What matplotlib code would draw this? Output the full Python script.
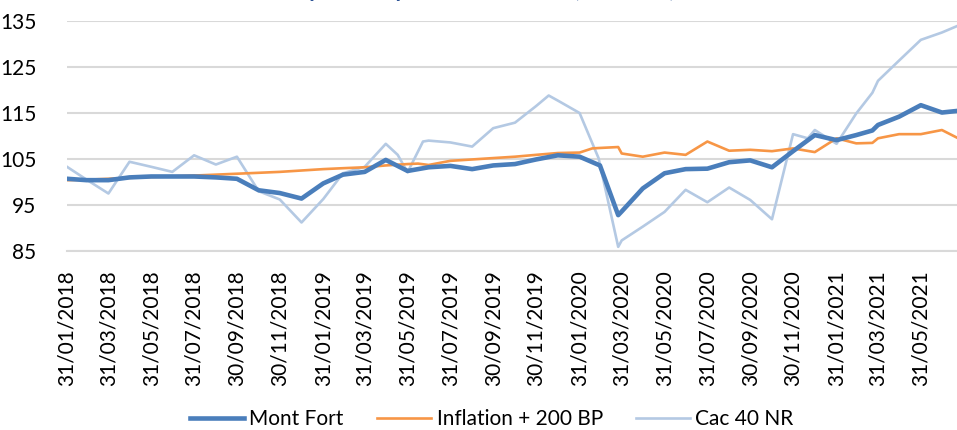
import matplotlib
matplotlib.use("Agg")
import matplotlib.pyplot as plt
import matplotlib.dates as mdates
import pandas as pd

plt.rcParams['font.family'] = ['Lato', 'DejaVu Sans']

title = "Évolution comparée depuis le lancement (base 100)"

mf_dates = ["2018-01-31", "2018-02-28", "2018-03-31", "2018-04-30", "2018-05-31", "2018-06-30",
            "2018-07-31", "2018-08-31", "2018-09-30", "2018-10-31", "2018-11-30", "2018-12-31",
            "2019-01-31", "2019-02-28", "2019-03-31", "2019-04-30", "2019-05-31", "2019-06-30",
            "2019-07-31", "2019-08-31", "2019-09-30", "2019-10-31", "2019-11-30", "2019-12-31",
            "2020-01-31", "2020-02-29", "2020-03-26", "2020-03-31", "2020-04-30", "2020-05-31",
            "2020-06-30", "2020-07-31", "2020-08-31", "2020-09-30", "2020-10-31", "2020-11-30",
            "2020-12-31", "2021-01-31", "2021-02-28", "2021-03-23", "2021-03-31", "2021-04-30",
            "2021-05-31", "2021-06-30", "2021-07-31"]
mont_fort = [100.7, 100.4, 100.4, 101.0, 101.2, 101.2,
             101.2, 101.0, 100.7, 98.2, 97.6, 96.4,
             99.7, 101.6, 102.2, 104.8, 102.4, 103.2,
             103.5, 102.8, 103.6, 103.9, 104.9, 105.8,
             105.5, 103.6, 92.8, 93.6, 98.6, 101.9,
             102.8, 102.9, 104.3, 104.7, 103.2, 106.7,
             110.2, 109.1, 110.2, 111.2, 112.4, 114.2,
             116.7, 115.1, 115.6]

inf_dates = ["2018-01-31", "2018-02-28", "2018-03-31", "2018-04-30", "2018-05-31", "2018-06-30",
             "2018-07-31", "2018-08-31", "2018-09-30", "2018-10-31", "2018-11-30", "2018-12-31",
             "2019-01-31", "2019-02-28", "2019-03-31", "2019-04-30", "2019-05-31", "2019-06-15",
             "2019-06-30", "2019-07-31", "2019-08-31", "2019-09-30", "2019-10-31", "2019-11-30",
             "2019-12-31", "2020-01-31", "2020-02-18", "2020-02-29", "2020-03-26", "2020-03-31",
             "2020-04-30", "2020-05-31", "2020-06-30", "2020-07-31", "2020-08-31", "2020-09-30",
             "2020-10-31", "2020-11-30", "2020-12-31", "2021-01-31", "2021-02-28", "2021-03-23",
             "2021-03-31", "2021-04-30", "2021-05-31", "2021-06-30", "2021-07-31"]
inflation = [100.4, 100.5, 100.7, 100.9, 101.1, 101.2,
             101.4, 101.6, 101.8, 102.0, 102.2, 102.5,
             102.8, 103.0, 103.2, 103.6, 103.9, 104.0,
             103.7, 104.6, 104.9, 105.2, 105.5, 105.9,
             106.3, 106.4, 107.3, 107.4, 107.6, 106.2,
             105.5, 106.4, 105.9, 108.8, 106.8, 107.0,
             106.7, 107.3, 106.5, 109.5, 108.4, 108.5,
             109.5, 110.4, 110.4, 111.3, 108.9]

cac_dates = ["2018-01-31", "2018-02-28", "2018-03-31", "2018-04-30", "2018-05-31", "2018-06-30",
             "2018-07-31", "2018-08-31", "2018-09-30", "2018-10-31", "2018-11-30", "2018-12-31",
             "2019-01-31", "2019-02-28", "2019-03-31", "2019-04-30", "2019-05-17", "2019-05-31",
             "2019-06-22", "2019-06-30", "2019-07-31", "2019-08-31", "2019-09-30", "2019-10-31",
             "2019-11-30", "2019-12-18", "2019-12-31", "2020-01-31", "2020-02-27", "2020-03-26",
             "2020-03-31", "2020-04-30", "2020-05-31", "2020-06-30", "2020-07-31", "2020-08-31",
             "2020-09-30", "2020-10-31", "2020-11-30", "2020-12-21", "2020-12-31", "2021-01-31",
             "2021-02-28", "2021-03-23", "2021-03-31", "2021-04-30", "2021-05-31", "2021-06-30",
             "2021-07-31"]
cac40 = [103.3, 100.5, 97.5, 104.4, 103.3, 102.2,
         105.8, 103.8, 105.5, 98.0, 96.2, 91.2,
         96.3, 101.9, 103.3, 108.3, 105.9, 102.1,
         108.8, 109.0, 108.6, 107.7, 111.7, 112.9,
         116.5, 118.8, 117.7, 115.0, 105.2, 85.9,
         87.3, 90.3, 93.5, 98.3, 95.6, 98.8,
         96.1, 91.9, 110.4, 109.5, 111.3, 108.3,
         114.9, 119.4, 122.0, 126.4, 130.9, 132.5,
         134.5]

series_names = ["Mont Fort", "Inflation + 200 BP", "Cac 40 NR"]
tick_dates = ["2018-01-31", "2018-03-31", "2018-05-31", "2018-07-31", "2018-09-30", "2018-11-30",
              "2019-01-31", "2019-03-31", "2019-05-31", "2019-07-31", "2019-09-30", "2019-11-30",
              "2020-01-31", "2020-03-31", "2020-05-31", "2020-07-31", "2020-09-30", "2020-11-30",
              "2021-01-31", "2021-03-31", "2021-05-31"]
y_ticks = [85, 95, 105, 115, 125, 135]

W, H = 957, 430
fig = plt.figure(figsize=(W / 100, H / 100), dpi=100)
ax = fig.add_axes([67 / W, 1 - 251 / H, (W - 67) / W, (251 - 21) / H])

ax.plot(pd.to_datetime(cac_dates), cac40, color="#B4C9E3", lw=1.9, label=series_names[2], zorder=3)
ax.plot(pd.to_datetime(inf_dates), inflation, color="#F79646", lw=1.9, label=series_names[1], zorder=4)
ax.plot(pd.to_datetime(mf_dates), mont_fort, color="#4A7EBB", lw=3.3, label=series_names[0], zorder=5,
        solid_joinstyle="round")

start = pd.Timestamp("2018-01-31")
ax.set_xlim(start, start + pd.Timedelta(days=1267.5))
ax.set_ylim(85, 135)
ax.set_yticks(y_ticks)
ax.set_yticklabels([str(v) for v in y_ticks])
td = pd.to_datetime(tick_dates)
ax.set_xticks(td)
ax.set_xticklabels([d.strftime("%d/%m/%Y") for d in td], rotation=90, va="top", ha="center")

ax.grid(axis="y", color="#D9D9D9", lw=1.5, zorder=0)
ax.set_axisbelow(True)
for s in ["top", "right", "left"]:
    ax.spines[s].set_visible(False)
ax.spines["bottom"].set_color("#D9D9D9")
ax.spines["bottom"].set_linewidth(1.5)
ax.tick_params(axis="both", length=0, labelsize=15, colors="black")
ax.tick_params(axis="y", pad=22)
ax.tick_params(axis="x", pad=14)

handles, labels = ax.get_legend_handles_labels()
order = [2, 1, 0]
fig.legend([handles[i] for i in order], [labels[i] for i in order], loc="center",
           bbox_to_anchor=(0.514, 0.025), ncol=3, frameon=False, fontsize=15,
           handlelength=2.6, handletextpad=0.25, columnspacing=1.6)

fig.text(0.44, 1.006, title, ha="center", va="baseline", fontsize=16, fontweight="bold", color="#2F5597")

fig.savefig("out.png", dpi=100)
